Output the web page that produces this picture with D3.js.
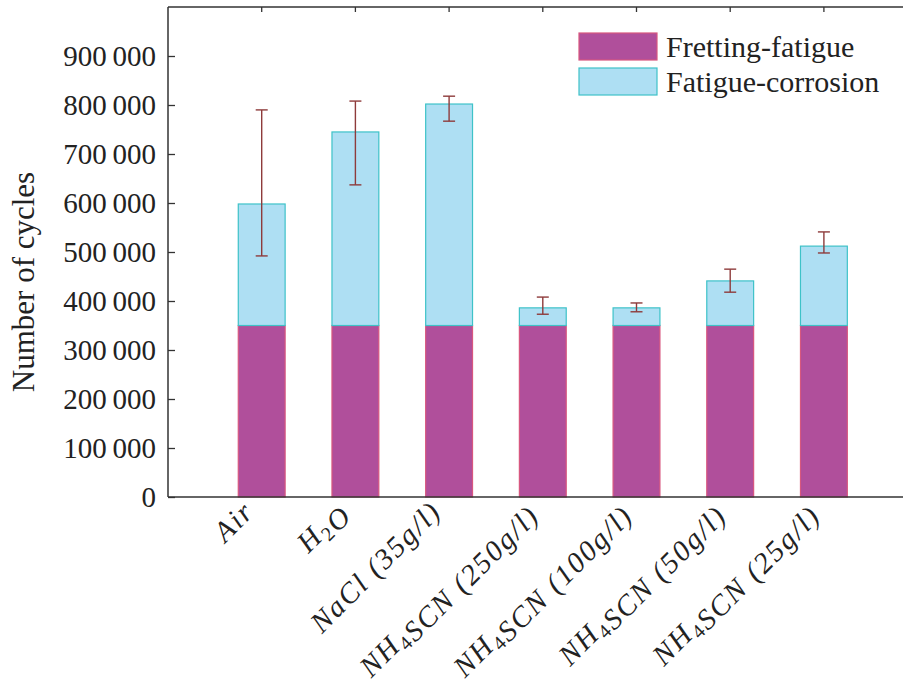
<!DOCTYPE html>
<html>
<head>
<meta charset="utf-8">
<script src="https://cdn.jsdelivr.net/npm/d3@7"></script>
<style>
  body { margin: 0; background: #fff; }
  svg text { font-family: "Liberation Serif", "Times New Roman", Tinos, "DejaVu Serif", "Noto Serif", serif; fill: #222; }
</style>
</head>
<body>
<div id="chart"></div>
<script>
// categories, "_" marks a one-char subscript
const categories = ["Air", "H_2O", "NaCl (35g/l)", "NH_4SCN (250g/l)", "NH_4SCN (100g/l)", "NH_4SCN (50g/l)", "NH_4SCN (25g/l)"];
const frettingFatigue = [350000, 350000, 350000, 350000, 350000, 350000, 350000];
const fatigueCorrosion = [248000, 395000, 452000, 36000, 36000, 91000, 162000];
const errLow = [492000, 637000, 767000, 373000, 378000, 418000, 498000];
const errHigh = [790000, 808000, 818000, 408000, 396000, 465000, 541000];
const yTicks = [0, 100000, 200000, 300000, 400000, 500000, 600000, 700000, 800000, 900000];
const seriesNames = ["Fretting-fatigue", "Fatigue-corrosion"];

const W = 903, H = 698;
const margin = {top: 7, left: 168, bottom: 201};
const colFret = "#b04f9b", edgeFret = "#d8577f";
const colCorr = "#aedff3", edgeCorr = "#3ec2c8";

const svg = d3.select("#chart").append("svg")
    .attr("width", W)
    .attr("height", H);

// x runs 0..8 like matlab, bars sit at 1..7 (right edge falls off the page)
const x = d3.scaleLinear().domain([0, 8]).range([margin.left, margin.left + 8 * 93.7]);
const y = d3.scaleLinear().domain([0, 1000000]).range([H - margin.bottom, margin.top]);
const barW = x(0.5) - x(0);

const fmt = d => d === 0 ? "0" : d3.format(",")(d).replace(/,/g, "\u2009");

// y axis, ticks pointing inward
const yAxis = svg.append("g")
    .attr("transform", `translate(${margin.left},0)`)
    .call(d3.axisLeft(y).tickValues(yTicks).tickSize(-7).tickPadding(12).tickFormat(fmt));
yAxis.attr("font-family", null);
yAxis.select(".domain").remove();
yAxis.selectAll(".tick line").attr("stroke", "#333").attr("stroke-width", 1.3);
yAxis.selectAll(".tick text").attr("font-size", 29).attr("fill", "#222");

// top ticks
const idx = d3.range(categories.length);
svg.append("g").selectAll("line")
    .data(idx).join("line")
    .attr("x1", i => x(i + 1)).attr("x2", i => x(i + 1))
    .attr("y1", y(1000000)).attr("y2", y(1000000) + 5)
    .attr("stroke", "#333").attr("stroke-width", 1.3);

// stacked bars
const bars = svg.append("g");
bars.selectAll("rect.fret")
    .data(idx).join("rect")
    .attr("class", "fret")
    .attr("x", i => x(i + 1) - barW / 2)
    .attr("width", barW)
    .attr("y", i => y(frettingFatigue[i]))
    .attr("height", i => y(0) - y(frettingFatigue[i]))
    .attr("fill", colFret).attr("stroke", edgeFret).attr("stroke-width", 1.2);

bars.selectAll("rect.corr")
    .data(idx).join("rect")
    .attr("class", "corr")
    .attr("x", i => x(i + 1) - barW / 2)
    .attr("width", barW)
    .attr("y", i => y(frettingFatigue[i] + fatigueCorrosion[i]))
    .attr("height", i => y(frettingFatigue[i]) - y(frettingFatigue[i] + fatigueCorrosion[i]))
    .attr("fill", colCorr).attr("stroke", edgeCorr).attr("stroke-width", 1.2);

// error bars
const err = svg.append("g").attr("stroke", "#8e3b3b").attr("stroke-width", 1.4);
err.selectAll("line.v").data(idx).join("line").attr("class", "v")
    .attr("x1", i => x(i + 1)).attr("x2", i => x(i + 1))
    .attr("y1", i => y(errLow[i])).attr("y2", i => y(errHigh[i]));
err.selectAll("line.t").data(idx).join("line").attr("class", "t")
    .attr("x1", i => x(i + 1) - 6).attr("x2", i => x(i + 1) + 6)
    .attr("y1", i => y(errHigh[i])).attr("y2", i => y(errHigh[i]));
err.selectAll("line.b").data(idx).join("line").attr("class", "b")
    .attr("x1", i => x(i + 1) - 6).attr("x2", i => x(i + 1) + 6)
    .attr("y1", i => y(errLow[i])).attr("y2", i => y(errLow[i]));

// frame: left, top, bottom
const frame = svg.append("g").attr("stroke", "#333").attr("stroke-width", 1.5).attr("fill", "none");
frame.append("line").attr("x1", x(0)).attr("x2", x(0)).attr("y1", y(0)).attr("y2", y(1000000));
frame.append("line").attr("x1", x(0)).attr("x2", W).attr("y1", y(1000000)).attr("y2", y(1000000));
frame.append("line").attr("x1", x(0)).attr("x2", W).attr("y1", y(0)).attr("y2", y(0));

// rotated x labels
const labels = svg.append("g").selectAll("text")
    .data(idx).join("text")
    .attr("transform", i => `translate(${x(i + 1) - 6},${y(0) + 16}) rotate(-45)`)
    .attr("text-anchor", "end")
    .attr("font-size", 29)
    .attr("font-style", "italic")
    .attr("letter-spacing", 2);

labels.each(function(i) {
    const t = d3.select(this);
    const parts = categories[i].split(/(_.)/);
    parts.forEach(p => {
        if (!p) return;
        if (p[0] === "_") {
            t.append("tspan").attr("font-size", 20).attr("font-style", "normal")
                .attr("dy", 6).text(p[1]);
            t.append("tspan").attr("dy", -6).text("");
        } else {
            t.append("tspan").text(p);
        }
    });
});

// y label
svg.append("text")
    .attr("transform", `translate(34,${(y(0) + y(1000000)) / 2 + 30}) rotate(-90)`)
    .attr("text-anchor", "middle")
    .attr("font-size", 31)
    .text("Number of cycles");

// legend
const legend = svg.append("g").attr("transform", "translate(579,33)");
const legCols = [[colFret, edgeFret], [colCorr, edgeCorr]];
seriesNames.forEach((name, k) => {
    const g = legend.append("g").attr("transform", `translate(0,${k * 35})`);
    g.append("rect").attr("width", 78).attr("height", 27)
        .attr("fill", legCols[k][0]).attr("stroke", legCols[k][1]).attr("stroke-width", 1.2);
    g.append("text").attr("x", 87).attr("y", 24).attr("font-size", 30).text(name);
});
</script>
</body>
</html>
